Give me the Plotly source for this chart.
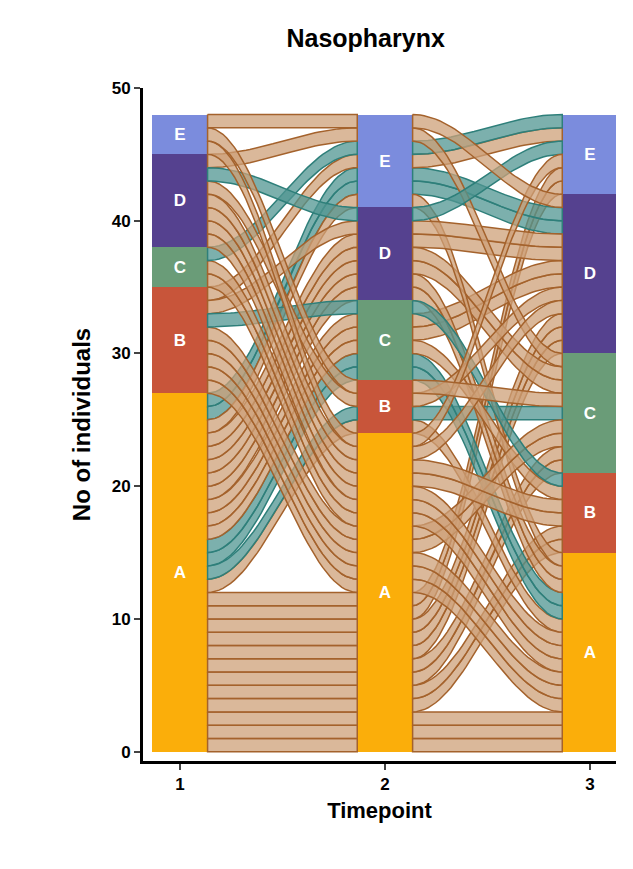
import numpy as np
import plotly.graph_objects as go

categories = ["A", "B", "C", "D", "E"]
timepoints = [1, 2, 3]
colors = {"A": "#FBAE0A", "B": "#C8553A", "C": "#6A9C78", "D": "#55418F", "E": "#7B8CDD"}

# trajectories: (t1, t2, t3, n individuals, teal highlight)
paths = [
    ("A", "A", "A", 3, False), ("A", "A", "B", 2, False), ("A", "A", "C", 2, False),
    ("A", "A", "D", 3, False), ("A", "A", "E", 2, False), ("A", "B", "A", 1, False),
    ("A", "B", "C", 1, True), ("A", "C", "A", 2, True), ("A", "C", "D", 2, False),
    ("A", "D", "A", 2, False), ("A", "D", "C", 2, False), ("A", "E", "D", 2, True),
    ("A", "E", "A", 1, False), ("A", "C", "B", 1, False), ("A", "D", "D", 1, False),
    ("B", "A", "A", 3, False), ("B", "A", "C", 2, False), ("B", "E", "E", 1, False),
    ("B", "D", "D", 1, False), ("B", "C", "B", 1, True),
    ("C", "A", "A", 2, False), ("C", "E", "E", 1, True),
    ("D", "A", "B", 2, False), ("D", "A", "A", 1, False), ("D", "B", "D", 1, False),
    ("D", "E", "C", 1, False), ("D", "D", "E", 1, True), ("D", "A", "D", 1, False),
    ("E", "A", "E", 1, False), ("E", "B", "C", 1, False), ("E", "E", "D", 1, False),
]

people = []
for a, b, c, n, teal in paths:
    for _ in range(n):
        people.append(([a, b, c], teal))

idx = {k: i for i, k in enumerate(categories)}
W = 0.27
# position of each individual in each stratum
pos = [[0] * 3 for _ in people]
sort_keys = [lambda p: (p[1], p[2]), lambda p: (p[0], p[2]), lambda p: (p[1], p[0])]
counts = []
for t in range(3):
    cnt = {k: 0 for k in categories}
    order = sorted(range(len(people)), key=lambda i: (idx[people[i][0][t]],) +
                   tuple(idx[v] for v in sort_keys[t](people[i][0])))
    y = 0
    for i in order:
        pos[i][t] = y
        cnt[people[i][0][t]] += 1
        y += 1
    counts.append(cnt)

fig = go.Figure()
s = np.linspace(0, 1, 40)
sig = (1 - np.cos(np.pi * s)) / 2
for i, (traj, teal) in enumerate(people):
    fill = "rgba(80,150,145,0.75)" if teal else "rgba(205,160,120,0.75)"
    line = "#2E7F7A" if teal else "#A4622C"
    for t in range(2):
        x0, x1 = timepoints[t] + W / 2, timepoints[t + 1] - W / 2
        xs = x0 + (x1 - x0) * s
        bot = pos[i][t] + (pos[i][t + 1] - pos[i][t]) * sig
        top = bot + 1
        fig.add_trace(go.Scatter(
            x=np.concatenate([xs, xs[::-1], xs[:1]]),
            y=np.concatenate([top, bot[::-1], top[:1]]),
            fill="toself", fillcolor=fill, mode="lines",
            line=dict(color=line, width=1.5), hoverinfo="skip", showlegend=False))

for k in categories:
    fig.add_trace(go.Bar(
        x=timepoints, y=[counts[t][k] for t in range(3)], width=W,
        marker=dict(color=colors[k], line=dict(width=0)),
        text=["<b>%s</b>" % k] * 3, textposition="inside", insidetextanchor="middle",
        textangle=0, textfont=dict(color="white", size=17, family="Arial"),
        showlegend=False))

fig.update_layout(
    barmode="stack", width=633, height=869, plot_bgcolor="white", paper_bgcolor="white",
    margin=dict(l=135, r=25, t=80, b=116),
    title=dict(text="<b>Nasopharynx</b>", x=0.565, y=0.975, font=dict(size=25, color="black", family="Arial")),
    font=dict(family="Arial", color="black"),
)
fig.update_xaxes(range=[0.82, 3.127], tickvals=timepoints, ticktext=["<b>1</b>", "<b>2</b>", "<b>3</b>"],
                 tickfont=dict(size=17), showgrid=False, showline=True, linecolor="black", linewidth=3,
                 ticks="outside", ticklen=6, tickwidth=2,
                 title=dict(text="<b>Timepoint</b>", font=dict(size=22), standoff=10))
fig.update_yaxes(range=[-0.7, 50], tickvals=[0, 10, 20, 30, 40, 50],
                 ticktext=["<b>%d</b>" % v for v in [0, 10, 20, 30, 40, 50]],
                 tickfont=dict(size=17), showgrid=False, zeroline=False, showline=True,
                 linecolor="black", linewidth=3, ticks="outside", ticklen=6, tickwidth=2,
                 title=dict(text="<b>No of individuals</b>", font=dict(size=24)))
fig.write_html("out.html")
